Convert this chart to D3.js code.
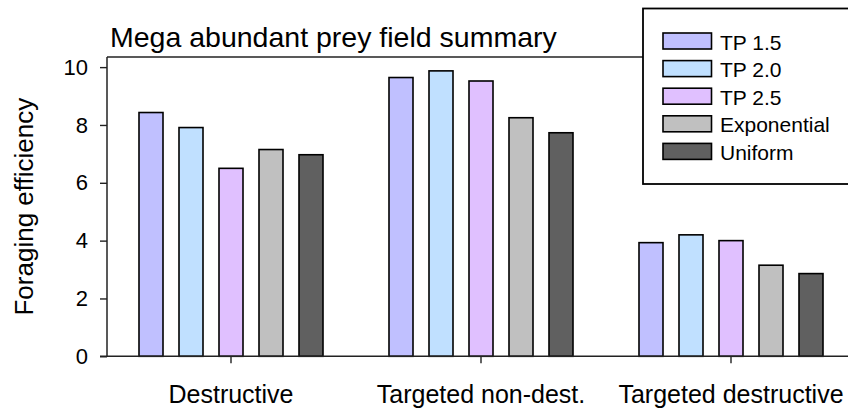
<!DOCTYPE html>
<html><head><meta charset="utf-8">
<script src="https://cdn.jsdelivr.net/npm/d3@7"></script>
<style>html,body{margin:0;padding:0;background:#fff;overflow:hidden}text{font-family:"Liberation Sans",Arial,sans-serif;fill:#000}</style>
</head><body>
<svg id="c" width="848" height="412"></svg>
<script>
const categories = ["Destructive", "Targeted non-dest.", "Targeted destructive"];
const seriesNames = ["TP 1.5", "TP 2.0", "TP 2.5", "Exponential", "Uniform"];
const seriesColors = ["#c0c0ff", "#c0e0ff", "#e0c0ff", "#c0c0c0", "#606060"];
const tp15 = [8.43, 9.64, 3.93];
const tp20 = [7.91, 9.87, 4.20];
const tp25 = [6.50, 9.52, 4.00];
const exponential = [7.15, 8.25, 3.15];
const uniform = [6.97, 7.73, 2.86];
const yTicks = [0, 2, 4, 6, 8, 10];
const chartTitle = "Mega abundant prey field summary";
const yLabel = "Foraging efficiency";

const seriesValues = [tp15, tp20, tp25, exponential, uniform];
const svg = d3.select("#c");
const pLeft = 107, pTop = 57, pBottom = 356.3;

const y = d3.scaleLinear().domain([0, 10.35]).range([pBottom, pTop]);
const x0 = d3.scaleBand().domain(categories).range([106, 856]).padding(0);
const x1 = d3.scaleBand().domain(seriesNames).range([25, 225]).paddingInner(0.4).paddingOuter(0.2);
const color = d3.scaleOrdinal().domain(seriesNames).range(seriesColors);

// bars
const g = svg.append("g");
categories.forEach((c, ci) => {
  seriesNames.forEach((s, si) => {
    const v = seriesValues[si][ci];
    g.append("rect")
      .attr("x", x0(c) + x1(s))
      .attr("y", y(v))
      .attr("width", x1.bandwidth())
      .attr("height", y(0) - y(v))
      .attr("fill", color(s))
      .attr("stroke", "#000")
      .attr("stroke-width", 1.6);
  });
});

// y axis
const yAxis = d3.axisLeft(y).tickValues(yTicks).tickSize(7).tickPadding(12).tickFormat(d3.format("d"));
const ya = svg.append("g").attr("transform", `translate(${pLeft},0)`).call(yAxis);
ya.select(".domain").remove();
ya.selectAll("line").attr("stroke", "#222").attr("stroke-width", 1.4);
ya.selectAll("text").attr("font-size", 22).attr("font-family", "Liberation Sans, Arial, sans-serif").attr("fill", "#000");
svg.append("line").attr("x1", pLeft).attr("x2", pLeft).attr("y1", pTop).attr("y2", pBottom).attr("stroke", "#222").attr("stroke-width", 1.5);

// x axis
const xAxis = d3.axisBottom(x0).tickSize(7).tickPadding(22);
const xa = svg.append("g").attr("transform", `translate(0,${pBottom})`).call(xAxis);
xa.select(".domain").remove();
xa.selectAll("line").attr("stroke", "#222").attr("stroke-width", 1.4);
xa.selectAll("text").attr("font-size", 25).attr("font-family", "Liberation Sans, Arial, sans-serif").attr("fill", "#000");
svg.append("line").attr("x1", 100).attr("x2", 848).attr("y1", pBottom).attr("y2", pBottom).attr("stroke", "#222").attr("stroke-width", 1.5);

// top spine
svg.append("line").attr("x1", pLeft).attr("x2", 848).attr("y1", pTop).attr("y2", pTop).attr("stroke", "#222").attr("stroke-width", 1.5);

// title
svg.append("text").attr("x", 110).attr("y", 47).attr("font-size", 28.5).text(chartTitle);

// y label
svg.append("text").attr("transform", `translate(33,${(pTop + pBottom) / 2}) rotate(-90)`)
  .attr("text-anchor", "middle").attr("font-size", 26).text(yLabel);

// legend
const lg = svg.append("g");
lg.append("rect").attr("x", 643).attr("y", 8.5).attr("width", 220).attr("height", 175.5)
  .attr("fill", "#fff").attr("stroke", "#000").attr("stroke-width", 1.8);
seriesNames.forEach((s, i) => {
  const ty = 33 + i * 27.6;
  lg.append("rect").attr("x", 663).attr("y", ty).attr("width", 48.5).attr("height", 16)
    .attr("fill", color(s)).attr("stroke", "#000").attr("stroke-width", 1.6);
  lg.append("text").attr("x", 720).attr("y", ty + 16.5).attr("font-size", 21).text(s);
});
</script>
</body></html>
